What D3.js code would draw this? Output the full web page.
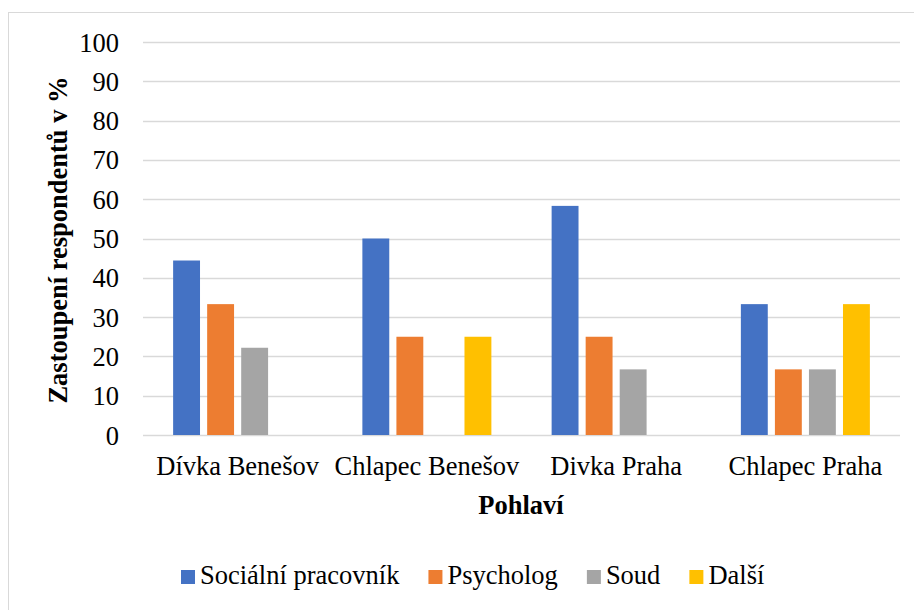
<!DOCTYPE html>
<html>
<head>
<meta charset="utf-8">
<script src="https://cdn.jsdelivr.net/npm/d3@7"></script>
<style>
  body { margin: 0; background: #fff; }
  svg { display: block; }
</style>
</head>
<body>
<svg id="chart" width="914" height="610"></svg>
<script>
const categories = ['Dívka Benešov', 'Chlapec Benešov', 'Divka Praha', 'Chlapec Praha'];
const seriesNames = ['Sociální pracovník', 'Psycholog', 'Soud', 'Další'];
const colors = ['#4472C4', '#ED7D31', '#A5A5A5', '#FFC000'];
// one array per series, in category order
const socialni = [44.4, 50, 58.3, 33.3];
const psycholog = [33.3, 25, 25, 16.7];
const soud = [22.2, 0, 16.7, 16.7];
const dalsi = [0, 25, 0, 33.3];
const yTicks = [0, 10, 20, 30, 40, 50, 60, 70, 80, 90, 100];

const seriesValues = [socialni, psycholog, soud, dalsi];
const data = categories.map((c, i) => ({
  category: c,
  values: seriesNames.map((s, j) => ({ series: s, idx: j, value: seriesValues[j][i] }))
}));

const font = 'Liberation Serif';
const fontSize = 26.5;

const margin = { top: 42, right: 14, bottom: 175, left: 143 };
const width = 914 - margin.left - margin.right;
const height = 610 - margin.top - margin.bottom;

const svg = d3.select('#chart');

// chart area border (runs past the right and bottom edges)
svg.append('rect')
  .attr('x', 8.5).attr('y', 12.5)
  .attr('width', 940).attr('height', 640)
  .attr('fill', 'none')
  .attr('stroke', '#D9D9D9')
  .attr('stroke-width', 1);

const g = svg.append('g')
  .attr('transform', `translate(${margin.left}, ${margin.top})`);

const pad = 1 - 129 / (width / 4);
const x0 = d3.scaleBand()
  .domain(categories)
  .range([0, width])
  .paddingInner(pad)
  .paddingOuter(pad / 2);

const x1 = d3.scaleBand()
  .domain(seriesNames)
  .range([0, x0.bandwidth()])
  .paddingInner(0.21);

const y = d3.scaleLinear()
  .domain([0, 100])
  .range([height, 0]);

// gridlines
g.append('g')
  .selectAll('line')
  .data(yTicks)
  .enter()
  .append('line')
  .attr('x1', 0).attr('x2', width)
  .attr('y1', d => Math.round(y(d)) + 0.5)
  .attr('y2', d => Math.round(y(d)) + 0.5)
  .attr('stroke', '#D9D9D9')
  .attr('stroke-width', 1.3);

// y axis labels
const yAxis = g.append('g')
  .call(d3.axisLeft(y).tickValues(yTicks).tickSize(0).tickPadding(24));
yAxis.select('.domain').remove();
yAxis.attr('font-family', font).attr('font-size', fontSize);
yAxis.selectAll('text').attr('fill', '#000').attr('dy', '0.34em');

// bars
const groups = g.selectAll('.group')
  .data(data)
  .enter()
  .append('g')
  .attr('class', 'group')
  .attr('transform', d => `translate(${x0(d.category)}, 0)`);

groups.selectAll('rect')
  .data(d => d.values.filter(v => v.value > 0))
  .enter()
  .append('rect')
  .attr('x', d => x1(d.series))
  .attr('width', x1.bandwidth())
  .attr('y', d => y(d.value))
  .attr('height', d => height - y(d.value))
  .attr('fill', d => colors[d.idx]);

// x axis labels
const xAxis = g.append('g')
  .attr('transform', `translate(0, ${height})`)
  .call(d3.axisBottom(x0).tickSize(0).tickPadding(0));
xAxis.select('.domain').remove();
xAxis.attr('font-family', font).attr('font-size', fontSize);
xAxis.selectAll('text')
  .attr('fill', '#000')
  .attr('y', 475 - margin.top - height)
  .attr('dy', 0);

// axis titles
svg.append('text')
  .attr('x', 521)
  .attr('y', 514)
  .attr('text-anchor', 'middle')
  .attr('font-family', font)
  .attr('font-size', fontSize)
  .attr('font-weight', 'bold')
  .text('Pohlaví');

svg.append('text')
  .attr('transform', 'translate(67, 240) rotate(-90)')
  .attr('text-anchor', 'middle')
  .attr('font-family', font)
  .attr('font-size', fontSize)
  .attr('font-weight', 'bold')
  .text('Zastoupení respondentů v %');

// legend
const legend = svg.append('g').attr('transform', 'translate(181, 584)');
let lx = 0;
seriesNames.forEach((s, i) => {
  const item = legend.append('g').attr('transform', `translate(${lx}, 0)`);
  item.append('rect')
    .attr('x', 0).attr('y', -14)
    .attr('width', 14).attr('height', 14)
    .attr('fill', colors[i]);
  const t = item.append('text')
    .attr('x', 19).attr('y', 0)
    .attr('font-family', font)
    .attr('font-size', fontSize)
    .text(s);
  lx += 19 + t.node().getComputedTextLength() + 29;
});
</script>
</body>
</html>
